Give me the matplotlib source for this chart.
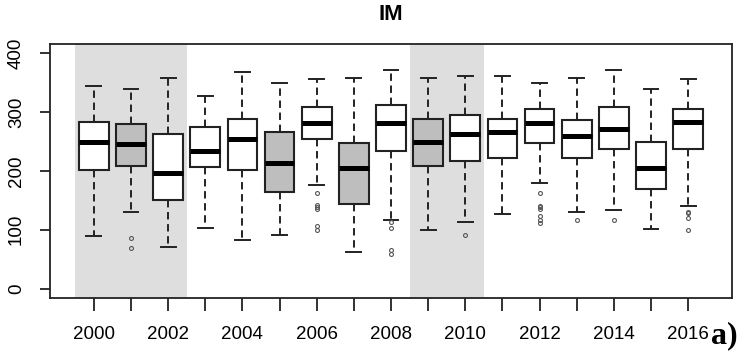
import matplotlib.pyplot as plt

years = list(range(2000, 2017))

# five-number summaries
whis_hi = [344, 339, 358, 327, 368, 350, 356, 359, 371, 359, 362, 362, 350, 359, 371, 339, 356]
q3 = [284, 280, 263, 275, 289, 266, 309, 248, 313, 289, 295, 289, 305, 286, 309, 249, 305]
med = [249, 246, 196, 234, 255, 214, 281, 205, 281, 249, 263, 267, 281, 260, 272, 205, 284]
q1 = [202, 209, 150, 206, 202, 165, 255, 144, 234, 209, 217, 222, 248, 222, 237, 170, 237]
whis_lo = [89, 130, 71, 103, 83, 92, 176, 63, 116, 100, 113, 127, 179, 130, 133, 101, 141]
outliers = [
    [], [86, 69], [], [], [], [],
    [163, 143, 138, 135, 106, 100],
    [],
    [113, 103, 66, 59],
    [], [92], [],
    [163, 140, 138, 136, 124, 117, 111],
    [117], [117], [],
    [131, 129, 120, 99],
]
gray_years = [2001, 2005, 2007, 2009]
shaded = [(2000, 2002), (2009, 2010)]

stats = []
for i in range(len(years)):
    stats.append({
        "med": med[i], "q1": q1[i], "q3": q3[i],
        "whislo": whis_lo[i], "whishi": whis_hi[i],
        "fliers": outliers[i],
    })

fig = plt.figure(figsize=(7.41, 3.51), dpi=100)
ax = fig.add_axes([50 / 741, 1 - 298 / 351, 682 / 741, 254 / 351])

pos = list(range(1, len(years) + 1))

for a, b in shaded:
    ax.axvspan(years.index(a) + 0.5, years.index(b) + 1.5, color="#dedede", lw=0, zorder=0)

bp = ax.bxp(
    stats, positions=pos, widths=0.8, patch_artist=True,
    boxprops=dict(edgecolor="#222222", linewidth=1.5),
    medianprops=dict(color="black", linewidth=3.6, solid_capstyle="butt"),
    whiskerprops=dict(color="#222222", linewidth=1.4, linestyle=(0, (3.8, 2.4))),
    capprops=dict(color="#222222", linewidth=1.4),
    flierprops=dict(marker="o", markersize=2.8, markerfacecolor="none",
                    markeredgecolor="#555555", markeredgewidth=0.8),
    capwidths=0.4,
)
for y, box in zip(years, bp["boxes"]):
    box.set_facecolor("#bebebe" if y in gray_years else "white")
    box.set_zorder(2)

ax.set_xlim(-0.18, 18.18)
ax.set_ylim(-16, 416)

ax.set_xticks(pos)
ax.set_xticklabels([str(y) if y % 2 == 0 else "" for y in years],
                   fontsize=13.5, fontfamily="Liberation Sans")
ax.set_yticks([0, 100, 200, 300, 400])
ax.set_yticklabels(["0", "100", "200", "300", "400"], rotation=90, va="center",
                   fontsize=13.5, fontfamily="Liberation Sans")
ax.tick_params(axis="x", length=9, width=1.3, pad=11, color="#222222")
ax.tick_params(axis="y", length=7, width=1.3, pad=11, color="#222222")
for s in ax.spines.values():
    s.set_linewidth(1.3)
    s.set_color("#222222")

ax.set_title("IM", fontsize=16, fontweight="bold", fontfamily="Liberation Sans", pad=17)

fig.text(738 / 741, 1 - 343 / 351, "a)", fontsize=23, fontweight="bold",
         fontfamily="Liberation Serif", ha="right", va="baseline")

fig.savefig("out.png", dpi=100)
